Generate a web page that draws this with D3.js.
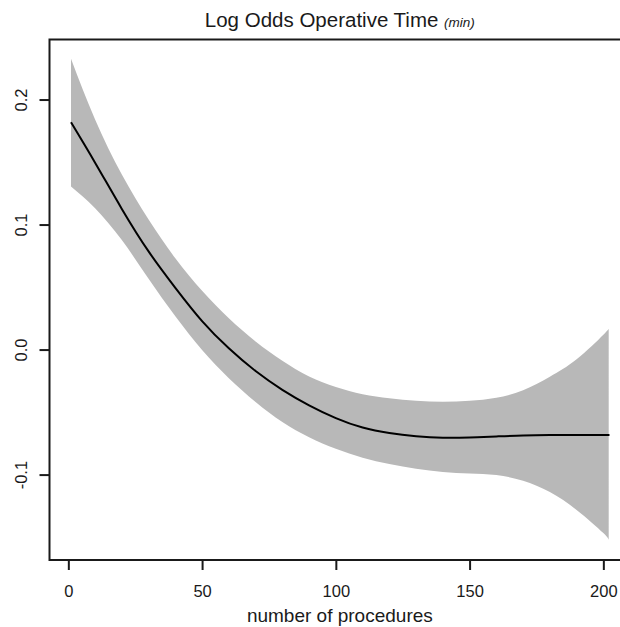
<!DOCTYPE html>
<html>
<head>
<meta charset="utf-8">
<script src="https://cdn.jsdelivr.net/npm/d3@7"></script>
<style>
  html, body { margin: 0; padding: 0; background: #fff; }
  svg { display: block; font-family: "Liberation Sans", Arial, Helvetica, sans-serif; }
</style>
</head>
<body>
<div id="chart"></div>
<script>
// Curva de aprendizaje: log odds del tiempo operatorio vs número de procedimientos
const procedures = [1, 10, 20, 30, 40, 50, 60, 70, 80, 90, 100, 110, 120, 130, 140, 150, 160, 170, 180, 190, 200, 202];
const fitValues  = [0.1818, 0.1495, 0.1125, 0.0785, 0.0494, 0.0228, 0.0010, -0.0172, -0.0322, -0.0446, -0.0548,
                    -0.0624, -0.0668, -0.0693, -0.0705, -0.0703, -0.0695, -0.0687, -0.0684, -0.0684, -0.0684, -0.0684];
const upperCI    = [0.2326, 0.1840, 0.1400, 0.1040, 0.0730, 0.0470, 0.0250, 0.0065, -0.0090, -0.0215, -0.0300,
                    -0.0358, -0.0390, -0.0410, -0.0418, -0.0410, -0.0385, -0.0325, -0.0217, -0.0078, 0.0118, 0.0170];
const lowerCI    = [0.1305, 0.1131, 0.0876, 0.0566, 0.0266, -0.0004, -0.0229, -0.0419, -0.0579, -0.0701, -0.0794,
                    -0.0866, -0.0916, -0.0954, -0.0980, -0.0992, -0.1004, -0.1049, -0.1139, -0.1283, -0.1468, -0.1529];
const xTicks = [0, 50, 100, 150, 200];
const yTicks = [-0.1, 0.0, 0.1, 0.2];

const width = 620, height = 627;
const plot = { left: 49.5, top: 39.5, right: 630.2, bottom: 560 };

const rows = procedures.map((n, i) => ({ n, fit: fitValues[i], lo: lowerCI[i], hi: upperCI[i] }));

// dominio estilo R (4% de margen a cada lado)
const xPad = (d3.max(procedures) - d3.min(procedures)) * 0.04;
const yMin = d3.min(lowerCI), yMax = d3.max(upperCI);
const yPad = (yMax - yMin) * 0.04;

const x = d3.scaleLinear()
  .domain([d3.min(procedures) - xPad, d3.max(procedures) + xPad])
  .range([plot.left, plot.right]);
const y = d3.scaleLinear()
  .domain([yMin - yPad, yMax + yPad])
  .range([plot.bottom, plot.top]);

const svg = d3.select('#chart').append('svg')
  .attr('width', width).attr('height', height)
  .attr('viewBox', `0 0 ${width} ${height}`);

// banda de confianza
svg.append('path')
  .datum(rows)
  .attr('fill', '#b8b8b8')
  .attr('stroke', 'none')
  .attr('d', d3.area()
    .x((d) => x(d.n))
    .y0((d) => y(d.lo))
    .y1((d) => y(d.hi))
    .curve(d3.curveNatural));

// curva ajustada
svg.append('path')
  .datum(rows)
  .attr('fill', 'none')
  .attr('stroke', '#000')
  .attr('stroke-width', 2)
  .attr('d', d3.line()
    .x((d) => x(d.n))
    .y((d) => y(d.fit))
    .curve(d3.curveNatural));

// caja
svg.append('rect')
  .attr('x', plot.left).attr('y', plot.top)
  .attr('width', plot.right - plot.left).attr('height', plot.bottom - plot.top)
  .attr('fill', 'none').attr('stroke', '#1a1a1a').attr('stroke-width', 2);

// eje x
const gx = svg.append('g')
  .attr('transform', `translate(0,${plot.bottom})`)
  .call(d3.axisBottom(x).tickValues(xTicks).tickSize(10).tickFormat(d3.format('d')));
gx.select('.domain').remove();
gx.selectAll('.tick line').attr('stroke', '#1a1a1a').attr('stroke-width', 2);
gx.selectAll('.tick text')
  .attr('fill', '#1a1a1a').attr('font-size', 16.5).attr('font-family', null)
  .attr('dy', 0).attr('y', 37);

// eje y (etiquetas rotadas, como en R)
const gy = svg.append('g')
  .attr('transform', `translate(${plot.left},0)`)
  .call(d3.axisLeft(y).tickValues(yTicks).tickSize(10).tickFormat((d) => d3.format('.1f')(d).replace('\u2212', '-')));
gy.select('.domain').remove();
gy.selectAll('.tick line').attr('stroke', '#1a1a1a').attr('stroke-width', 2);
gy.selectAll('.tick text')
  .attr('fill', '#1a1a1a').attr('font-size', 16.5).attr('font-family', null)
  .attr('x', 0).attr('dy', 0).attr('y', -23)
  .attr('text-anchor', 'middle')
  .attr('transform', 'rotate(-90)');

// título
const title = svg.append('text')
  .attr('x', (plot.left + plot.right) / 2).attr('y', 27)
  .attr('text-anchor', 'middle')
  .attr('fill', '#1a1a1a');
title.append('tspan').attr('font-size', 20.5).text('Log Odds Operative Time ');
title.append('tspan').attr('font-size', 13.5).attr('font-style', 'italic').text('(min)');

// etiqueta eje x
svg.append('text')
  .attr('x', (plot.left + plot.right) / 2).attr('y', 622)
  .attr('text-anchor', 'middle')
  .attr('font-size', 19)
  .attr('fill', '#1a1a1a')
  .text('number of procedures');
</script>
</body>
</html>
